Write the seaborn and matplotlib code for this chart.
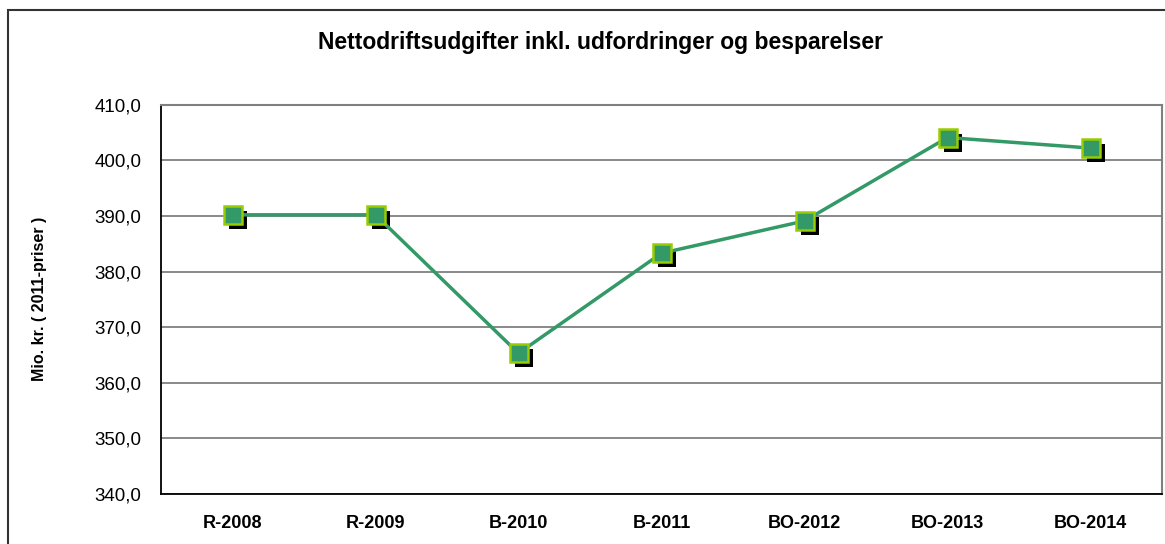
import matplotlib
matplotlib.use("Agg")
import matplotlib.pyplot as plt
import matplotlib.transforms as mtransforms
from matplotlib.patches import Rectangle
from matplotlib.ticker import FixedLocator, FuncFormatter
import pandas as pd
import seaborn as sns

# data
periods = ["R-2008", "R-2009", "B-2010", "B-2011", "BO-2012", "BO-2013", "BO-2014"]
expenses = [390.2, 390.2, 365.3, 383.3, 389.1, 404.1, 402.2]
y_ticks = [340, 350, 360, 370, 380, 390, 400, 410]

df = pd.DataFrame({"periode": periods, "udgift": expenses})
df["pos"] = range(len(periods))

sns.set_style("white")
plt.rcParams["font.family"] = ["Liberation Sans", "DejaVu Sans"]
plt.rcParams["text.color"] = "black"
plt.rcParams["xtick.color"] = "black"
plt.rcParams["ytick.color"] = "black"
plt.rcParams["axes.labelcolor"] = "black"

fig = plt.figure(figsize=(11.65, 5.44), dpi=100)
ax = fig.add_axes([161 / 1165, 1 - 494 / 544, 1001 / 1165, 389.3 / 544])

green = "#339966"
lime = "#99CC00"

# shadow squares behind markers
sns.lineplot(data=df, x="pos", y="udgift", ax=ax, color="black", linestyle="none",
             marker="s", markersize=13, markeredgewidth=0, sort=False, zorder=3)
shadow = ax.lines[-1]
shadow.set_transform(ax.transData + mtransforms.ScaledTranslation(5 / 100, -5 / 100, fig.dpi_scale_trans))

# main line
sns.lineplot(data=df, x="pos", y="udgift", ax=ax, color=green, linewidth=2.5,
             marker="s", markersize=13, markerfacecolor=green, markeredgecolor=lime,
             markeredgewidth=1.8, sort=False, zorder=4)

ax.set_xlim(-0.5, len(periods) - 0.5)
ax.set_ylim(340, 410)
ax.set_yticks(y_ticks)
ax.yaxis.set_major_formatter(FuncFormatter(lambda v, p: f"{v:.1f}".replace(".", ",")))
ax.set_xticks(range(len(periods)))
ax.set_xticklabels(periods, fontsize=13, fontweight="bold")
ax.xaxis.set_minor_locator(FixedLocator([i - 0.5 for i in range(len(periods) + 1)]))
ax.tick_params(axis="x", which="major", length=0, pad=15)
ax.tick_params(axis="x", which="minor", length=6, width=1, color="black", direction="out")
ax.tick_params(axis="y", length=6, width=1, color="black", direction="out", labelsize=13.5, pad=8)

ax.grid(axis="y", color="#808080", linewidth=1.3)
ax.set_axisbelow(True)
for side in ["top", "right"]:
    ax.spines[side].set_color("#808080")
    ax.spines[side].set_linewidth(1.5)
for side in ["left", "bottom"]:
    ax.spines[side].set_color("black")
    ax.spines[side].set_linewidth(1.3)

ax.set_xlabel("")
ax.set_ylabel("Mio. kr. ( 2011-priser )", fontsize=11.5, fontweight="bold")
ax.yaxis.set_label_coords(-0.114, 0.5)

fig.text(600 / 1165, 1 - 43 / 544, "Nettodriftsudgifter inkl. udfordringer og besparelser",
         ha="center", va="center", fontsize=16.5, fontweight="bold")

# outer chart border (cut off at right and bottom)
fig.patches.append(Rectangle((8 / 1165, -0.1), 1.2, 1.1 - 10 / 544, transform=fig.transFigure,
                             fill=False, edgecolor="#333333", linewidth=1.5))

fig.savefig("out.png", dpi=100)
